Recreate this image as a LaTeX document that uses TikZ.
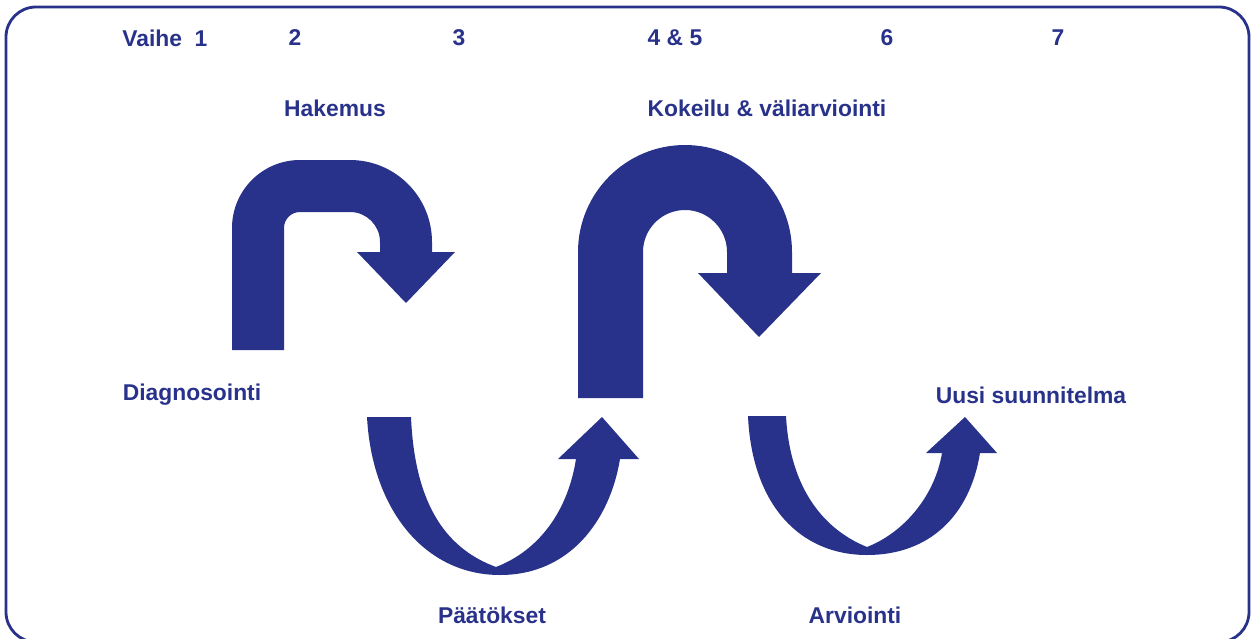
\documentclass[tikz,border=0pt]{standalone}
\usepackage{fontspec}
\setmainfont{Liberation Sans}
\definecolor{kiertoblue}{RGB}{41, 50, 138}
\usetikzlibrary{positioning}

\begin{document}
\begin{tikzpicture}[
  x=0.02cm, y=-0.02cm,
  lbl/.style={text=kiertoblue, font=\bfseries\fontsize{13}{15}\selectfont, inner sep=0pt},
  kaari/.style={fill=kiertoblue},
  kehys/.style={draw=kiertoblue, line width=1.6pt, rounded corners=0.6cm}
]
  \useasboundingbox (0,0) rectangle (1251,639);
  \begin{scope}
    \clip (0,0) rectangle (1251,639);
    \draw[kehys] (6,7) rectangle (1249,642);
  \end{scope}

  % vaiheet
  \node[lbl, anchor=west] (vaihe) at (122,38) {Vaihe\ \ 1};
  \node[lbl] (v2) at (295,38) {2};
  \node[lbl] (v3) at (459,38) {3};
  \node[lbl] (v45) at (675,38) {4 \& 5};
  \node[lbl] (v6) at (887,38) {6};
  \node[lbl] (v7) at (1058,38) {7};

  % otsikot
  \node[lbl] (hakemus) at (335,108) {Hakemus};
  \node[lbl] (kokeilu) at (767,108) {Kokeilu \& väliarviointi};
  \node[lbl] (diagnosointi) at (192,395) {Diagnosointi};
  \node[lbl] (uusi) at (1031,395) {Uusi suunnitelma};
  \node[lbl] (paatokset) at (492,615) {Päätökset};
  \node[lbl] (arviointi) at (855,615) {Arviointi};

  % nuoli 1: diagnosointi -> hakemus
  \fill[kaari] (232,350) -- (232,228) arc (180:270:68) -- (350,160) arc (270:360:82)
    -- (432,252) -- (455,252) -- (406,303) -- (357,252) -- (380,252)
    -- (380,242) arc (0:-90:30) -- (300,212) arc (-90:-180:16) -- (284,350) -- cycle;

  % nuoli 2: paatokset
  \fill[kaari] (367,417) -- (411,417)
    .. controls (415,510) and (450,550) .. (496,567)
    .. controls (540,550) and (568,510) .. (576,459)
    -- (558,459) -- (602,417) -- (639,459) -- (620,459)
    .. controls (610,520) and (570,575) .. (500,575)
    .. controls (425,575) and (372,510) .. (367,417) -- cycle;

  % nuoli 3: kokeilu
  \fill[kaari] (578,398) -- (578,252) arc (180:360:107) -- (792,273) -- (821,273)
    -- (759,337) -- (698,273) -- (727,273) -- (727,252) arc (0:-180:42)
    -- (643,398) -- cycle;

  % nuoli 4: arviointi
  \fill[kaari] (748,416) -- (786,416)
    .. controls (790,490) and (825,530) .. (867,547)
    .. controls (905,532) and (935,495) .. (942,453)
    -- (926,453) -- (965,417) -- (997,453) -- (980,453)
    .. controls (970,515) and (930,555) .. (867,555)
    .. controls (800,555) and (752,505) .. (748,416) -- cycle;
\end{tikzpicture}
\end{document}
